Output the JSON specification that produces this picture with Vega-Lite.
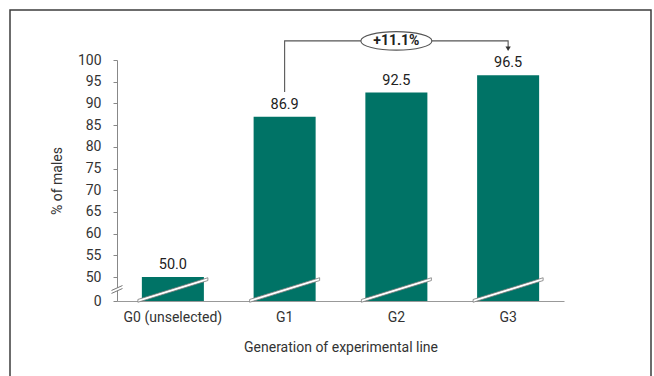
{
  "$schema": "https://vega.github.io/schema/vega-lite/v6.json",
  "autosize": "none",
  "width": 641,
  "height": 370,
  "padding": {"left": 10, "top": 10, "right": 3, "bottom": -4},
  "background": "white",
  "config": {
    "font": "Roboto",
    "view": {"stroke": "#3c3c3c", "strokeWidth": 1.5},
    "axis": {"grid": false}
  },
  "datasets": {
    "bars": [
      {"gen": "G0 (unselected)", "pct": 50.0},
      {"gen": "G1", "pct": 86.9},
      {"gen": "G2", "pct": 92.5},
      {"gen": "G3", "pct": 96.5}
    ],
    "breaks": [
      {"gen": "G0 (unselected)", "v": 22.9},
      {"gen": "G1", "v": 22.9},
      {"gen": "G2", "v": 22.9},
      {"gen": "G3", "v": 22.9}
    ],
    "axisBreak": [
      {"gen": "G0 (unselected)", "v": 24}
    ],
    "bracket": [
      {"gen": "G1", "v": 92.6, "k": 1},
      {"gen": "G1", "v": 104.4, "k": 2},
      {"gen": "G3", "v": 104.4, "k": 3},
      {"gen": "G3", "v": 102.9, "k": 4}
    ],
    "arrow": [
      {"gen": "G3", "v": 102.6}
    ],
    "change": [
      {"gen": "G2", "v": 104.4, "label": "+11.1%"}
    ]
  },
  "layer": [
    {
      "data": {"name": "bars"},
      "mark": {"type": "bar", "color": "#007366"},
      "encoding": {
        "x": {
          "field": "gen", "type": "nominal", "sort": null,
          "scale": {"range": [107, 554], "paddingInner": 0.445, "paddingOuter": 0.2225},
          "title": "Generation of experimental line",
          "axis": {
            "labelAngle": 0, "ticks": false, "offset": -79,
            "domainColor": "#999999", "domainWidth": 1,
            "labelFontSize": 14, "labelColor": "#333333", "labelPadding": 9,
            "titleFontSize": 14, "titleFontWeight": "normal", "titleColor": "#333333", "titlePadding": 16
          }
        },
        "y": {
          "field": "pct", "type": "quantitative",
          "scale": {"domain": [0, 50, 100], "range": [291, 267, 50], "zero": false, "nice": false},
          "title": "% of males",
          "axis": {
            "values": [0, 50, 55, 60, 65, 70, 75, 80, 85, 90, 95, 100],
            "tickCount": 40,
            "labelOverlap": false,
            "offset": -107,
            "domainColor": "#888888", "tickColor": "#888888", "tickSize": 4,
            "labelFontSize": 14, "labelColor": "#333333", "labelPadding": 12,
            "titleFontSize": 14, "titleFontWeight": "normal", "titleColor": "#333333", "titlePadding": 13
          }
        }
      }
    },
    {
      "data": {"name": "breaks"},
      "mark": {
        "type": "point", "filled": true, "fill": "white", "fillOpacity": 1,
        "stroke": "#7a7a7a", "strokeWidth": 0.8, "size": 4900,
        "shape": "M-1,0.35 L1,-0.27 L1,-0.35 L-1,0.27 Z"
      },
      "encoding": {
        "x": {"field": "gen", "type": "nominal", "sort": null, "title": "Generation of experimental line"},
        "y": {"field": "v", "type": "quantitative", "title": "% of males"}
      }
    },
    {
      "data": {"name": "bars"},
      "mark": {"type": "text", "baseline": "bottom", "dy": -5, "fontSize": 14.5, "color": "#222222"},
      "encoding": {
        "x": {"field": "gen", "type": "nominal", "sort": null, "title": "Generation of experimental line"},
        "y": {"field": "pct", "type": "quantitative", "title": "% of males"},
        "text": {"field": "pct", "type": "quantitative", "format": ".1f"}
      }
    },
    {
      "data": {"name": "axisBreak"},
      "mark": {
        "type": "point", "filled": true, "fill": "white", "fillOpacity": 1, "strokeWidth": 0,
        "size": 121, "shape": "M-1,0.18 L1,-0.72 L1,-0.18 L-1,0.72 Z"
      },
      "encoding": {
        "x": {"field": "gen", "type": "nominal", "sort": null, "bandPosition": -0.401, "title": "Generation of experimental line"},
        "y": {"field": "v", "type": "quantitative", "title": "% of males"}
      }
    },
    {
      "data": {"name": "axisBreak"},
      "mark": {
        "type": "point", "filled": false, "stroke": "#777777", "strokeWidth": 1, "opacity": 1,
        "size": 121, "shape": "M-1,0.18 L1,-0.72 M-1,0.72 L1,-0.18"
      },
      "encoding": {
        "x": {"field": "gen", "type": "nominal", "sort": null, "bandPosition": -0.401, "title": "Generation of experimental line"},
        "y": {"field": "v", "type": "quantitative", "title": "% of males"}
      }
    },
    {
      "data": {"name": "bracket"},
      "mark": {"type": "line", "color": "#555555", "strokeWidth": 1.1, "interpolate": "linear"},
      "encoding": {
        "x": {"field": "gen", "type": "nominal", "sort": null, "title": "Generation of experimental line"},
        "y": {"field": "v", "type": "quantitative", "title": "% of males"},
        "order": {"field": "k", "type": "quantitative"}
      }
    },
    {
      "data": {"name": "arrow"},
      "mark": {"type": "point", "shape": "triangle-down", "filled": true, "color": "#333333", "size": 28, "opacity": 1},
      "encoding": {
        "x": {"field": "gen", "type": "nominal", "sort": null, "title": "Generation of experimental line"},
        "y": {"field": "v", "type": "quantitative", "title": "% of males"}
      }
    },
    {
      "data": {"name": "change"},
      "mark": {
        "type": "point", "filled": true, "fill": "white", "fillOpacity": 1,
        "stroke": "#555555", "strokeWidth": 1.1, "size": 5041,
        "shape": "M-1,0 A1,0.26 0 1,1 1,0 A1,0.26 0 1,1 -1,0 Z"
      },
      "encoding": {
        "x": {"field": "gen", "type": "nominal", "sort": null, "title": "Generation of experimental line"},
        "y": {"field": "v", "type": "quantitative", "title": "% of males"}
      }
    },
    {
      "data": {"name": "change"},
      "mark": {"type": "text", "baseline": "middle", "fontSize": 14, "fontWeight": "bold", "color": "#222222"},
      "encoding": {
        "x": {"field": "gen", "type": "nominal", "sort": null, "title": "Generation of experimental line"},
        "y": {"field": "v", "type": "quantitative", "title": "% of males"},
        "text": {"field": "label"}
      }
    }
  ]
}
